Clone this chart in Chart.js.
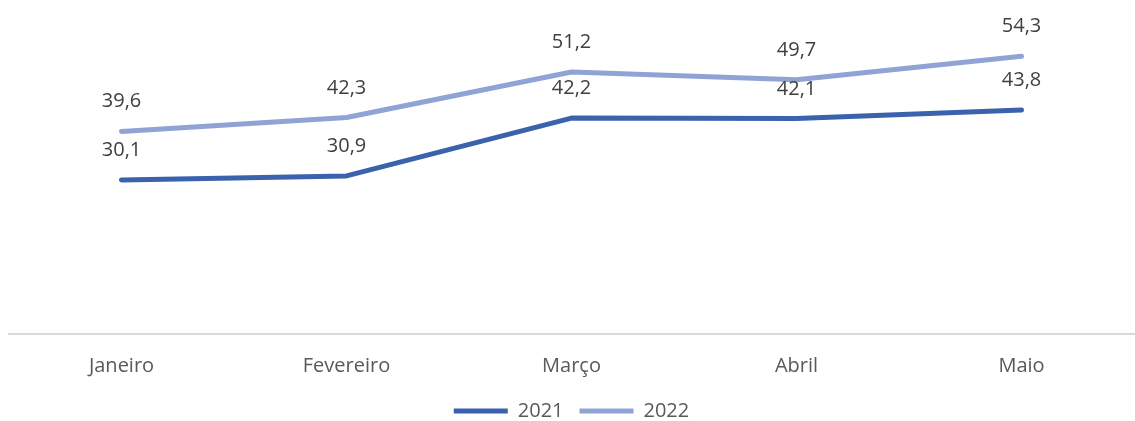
<!DOCTYPE html>
<html>
<head>
<meta charset="utf-8">
<script src="https://cdn.jsdelivr.net/npm/chart.js@4"></script>
<style>
  html, body { margin: 0; padding: 0; background: #fff; }
  #wrap { width: 1135px; height: 421px; position: relative; }
</style>
</head>
<body>
<div id="wrap"><canvas id="lineChart"></canvas></div>
<script>
// Dados
var meses = ['Janeiro', 'Fevereiro', 'Março', 'Abril', 'Maio'];
var valores2021 = [30.1, 30.9, 42.2, 42.1, 43.8];
var valores2022 = [39.6, 42.3, 51.2, 49.7, 54.3];

// Rótulos de dados acima de cada ponto
var rotulosPlugin = {
    id: 'rotulos',
    afterDatasetsDraw: function (chart) {
        var ctx = chart.ctx;
        ctx.save();
        ctx.font = '20px "Open Sans"';
        ctx.fillStyle = '#404040';
        ctx.textAlign = 'center';
        ctx.textBaseline = 'alphabetic';
        chart.data.datasets.forEach(function (ds, i) {
            var meta = chart.getDatasetMeta(i);
            meta.data.forEach(function (pt, j) {
                var txt = ds.data[j].toFixed(1).replace('.', ',');
                ctx.fillText(txt, pt.x, pt.y - 24);
            });
        });
        ctx.restore();
    }
};

var ctx = document.getElementById('lineChart').getContext('2d');
var chart = new Chart(ctx, {
    type: 'line',
    data: {
        labels: meses,
        datasets: [
            {
                label: '2021',
                data: valores2021,
                borderColor: '#3a62ad',
                backgroundColor: '#3a62ad',
                borderWidth: 5,
                borderCapStyle: 'round',
                borderJoinStyle: 'round',
                pointRadius: 0,
                tension: 0
            },
            {
                label: '2022',
                data: valores2022,
                borderColor: '#8fa3d5',
                backgroundColor: '#8fa3d5',
                borderWidth: 5,
                borderCapStyle: 'round',
                borderJoinStyle: 'round',
                pointRadius: 0,
                tension: 0
            }
        ]
    },
    options: {
        responsive: true,
        maintainAspectRatio: false,
        animation: false,
        layout: { padding: { top: 27, left: 9, right: 1, bottom: -10 } },
        scales: {
            x: {
                offset: true,
                grid: { display: false, drawTicks: false },
                border: { display: true, color: '#d9d9d9', width: 2 },
                ticks: {
                    color: '#595959',
                    font: { family: 'Open Sans', size: 20 },
                    padding: 20
                },
                afterFit: function (scale) {
                    scale.height -= 13; // acercar el eje a la leyenda
                }
            },
            y: {
                display: false,
                min: 0,
                max: 60
            }
        },
        plugins: {
            legend: {
                position: 'bottom',
                labels: {
                    usePointStyle: true,
                    pointStyleWidth: 54,
                    pointStyle: 'line',
                    color: '#595959',
                    font: { family: 'Open Sans', size: 20 },
                    padding: 16
                }
            },
            tooltip: { enabled: false }
        }
    },
    plugins: [rotulosPlugin]
});
</script>
</body>
</html>
